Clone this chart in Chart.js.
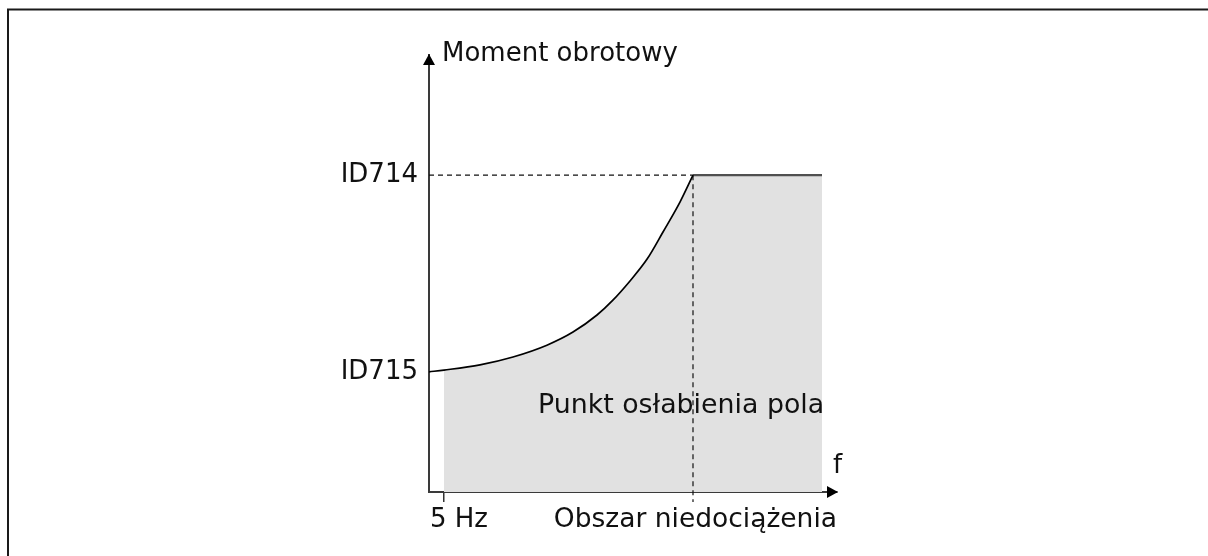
<!DOCTYPE html>
<html>
<head>
<meta charset="utf-8">
<script src="https://cdn.jsdelivr.net/npm/chart.js@4.4.1/dist/chart.umd.min.js"></script>
<style>
  html, body { margin: 0; padding: 0; background: #fff; }
  #wrap { width: 1208px; height: 556px; }
</style>
</head>
<body>
<div id="wrap"><canvas id="underload"></canvas></div>
<script>
// underload curve: minimum torque vs. frequency (schematic units)
const curveHz = [0, 5, 17, 28, 39.3, 48, 56, 61.3, 67, 72.7, 78, 83.7, 88];
const curveTorque = [27.5, 27.9, 29.1, 30.9, 33.6, 36.6, 40.5, 43.9, 48.3, 53.3, 59.5, 66.4, 72.5];
const plateauHz = [88, 131];
const plateauTorque = [72.5, 72.5];
const fieldWeakeningHz = 88;
const guideBottom = -2.3;

const yTickValues = [27.5, 72.5];
const yTickLabels = ['ID715', 'ID714'];
const xTickValues = [5];
const xTickLabels = ['5 Hz'];

const FONT = "'DejaVu Sans', Verdana, sans-serif";
const TEXT = '#111';
const AREA = '#e1e1e1';

const toPoints = (xs, ys) => xs.map((x, i) => ({ x, y: ys[i] }));
const curvePts = toPoints(curveHz, curveTorque);
const topLevel = yTickValues[1];

// axis arrows, frame and free labels
const decorations = {
  id: 'decorations',
  beforeDraw(chart) {
    const { ctx } = chart;
    ctx.save();
    ctx.strokeStyle = '#1a1a1a';
    ctx.lineWidth = 2;
    ctx.beginPath();
    ctx.moveTo(8, chart.height + 2);
    ctx.lineTo(8, 9.5);
    ctx.lineTo(chart.width + 2, 9.5);
    ctx.stroke();
    ctx.restore();
  },
  afterDraw(chart) {
    const { ctx, chartArea: a } = chart;
    const x = chart.scales.x;
    const y = chart.scales.y;
    ctx.save();
    ctx.fillStyle = '#000';
    ctx.beginPath();
    ctx.moveTo(a.left, a.top - 1);
    ctx.lineTo(a.left - 6, a.top + 10);
    ctx.lineTo(a.left + 6, a.top + 10);
    ctx.closePath();
    ctx.fill();
    ctx.beginPath();
    ctx.moveTo(a.right + 1, a.bottom);
    ctx.lineTo(a.right - 10, a.bottom - 6);
    ctx.lineTo(a.right - 10, a.bottom + 6);
    ctx.closePath();
    ctx.fill();

    ctx.fillStyle = TEXT;
    ctx.font = '26px ' + FONT;
    ctx.textBaseline = 'alphabetic';
    ctx.textAlign = 'left';
    ctx.fillText('Moment obrotowy', a.left + 13, a.top + 6);
    ctx.fillText('f', a.right - 4, a.bottom - 19);
    ctx.font = '26.8px ' + FONT;
    ctx.fillText('Punkt osłabienia pola', x.getPixelForValue(fieldWeakeningHz) - 155,
      y.getPixelForValue(curveTorque[0]) + 41);
    ctx.restore();
  }
};

new Chart(document.getElementById('underload'), {
  type: 'line',
  data: {
    datasets: [
      {
        data: curvePts.filter(p => p.x >= xTickValues[0]),
        cubicInterpolationMode: 'monotone',
        borderWidth: 0,
        fill: 'origin',
        backgroundColor: AREA,
        order: 5
      },
      {
        data: toPoints(plateauHz, plateauTorque),
        borderColor: '#505050',
        borderWidth: 2.2,
        fill: 'origin',
        backgroundColor: AREA,
        order: 4
      },
      {
        data: [{ x: 0, y: topLevel }, { x: fieldWeakeningHz, y: topLevel }],
        borderColor: '#111',
        borderWidth: 1.2,
        borderDash: [5, 4],
        fill: false,
        order: 3
      },
      {
        data: [{ x: fieldWeakeningHz, y: topLevel }, { x: fieldWeakeningHz, y: guideBottom }],
        borderColor: '#111',
        borderWidth: 1.2,
        borderDash: [5, 4],
        fill: false,
        clip: false,
        order: 2
      },
      {
        data: curvePts,
        cubicInterpolationMode: 'monotone',
        borderColor: '#000',
        borderWidth: 1.7,
        fill: false,
        order: 1
      }
    ]
  },
  options: {
    responsive: true,
    maintainAspectRatio: false,
    animation: false,
    events: [],
    layout: { padding: { top: 55, right: 371, left: 0, bottom: 0 } },
    elements: { point: { radius: 0 } },
    plugins: { legend: { display: false }, tooltip: { enabled: false } },
    scales: {
      x: {
        type: 'linear',
        min: 0,
        max: 136,
        afterBuildTicks: s => { s.ticks = xTickValues.map(v => ({ value: v })); },
        afterFit: s => { s.height = 64; },
        ticks: {
          callback: (v, i) => xTickLabels[i],
          font: { family: FONT, size: 26 },
          color: TEXT,
          padding: 3,
          labelOffset: 15,
          maxRotation: 0,
          autoSkip: false
        },
        grid: { display: true, drawOnChartArea: false, drawTicks: true, tickLength: 10, color: '#333', lineWidth: 1.5 },
        border: { display: true, color: '#3a3a3a', width: 2 },
        title: {
          display: true,
          text: 'Obszar niedociążenia',
          align: 'end',
          color: TEXT,
          font: { family: FONT, size: 26.5 },
          padding: { top: 0, bottom: 20 }
        }
      },
      y: {
        type: 'linear',
        min: 0,
        max: 100,
        afterBuildTicks: s => { s.ticks = yTickValues.map(v => ({ value: v })); },
        afterFit: s => { s.width = 429; },
        ticks: {
          callback: (v, i) => yTickLabels[i],
          font: { family: FONT, size: 26 },
          color: TEXT,
          padding: 11
        },
        grid: { display: false, drawTicks: false },
        border: { display: true, color: '#3a3a3a', width: 2 }
      }
    }
  },
  plugins: [decorations]
});
</script>
</body>
</html>
